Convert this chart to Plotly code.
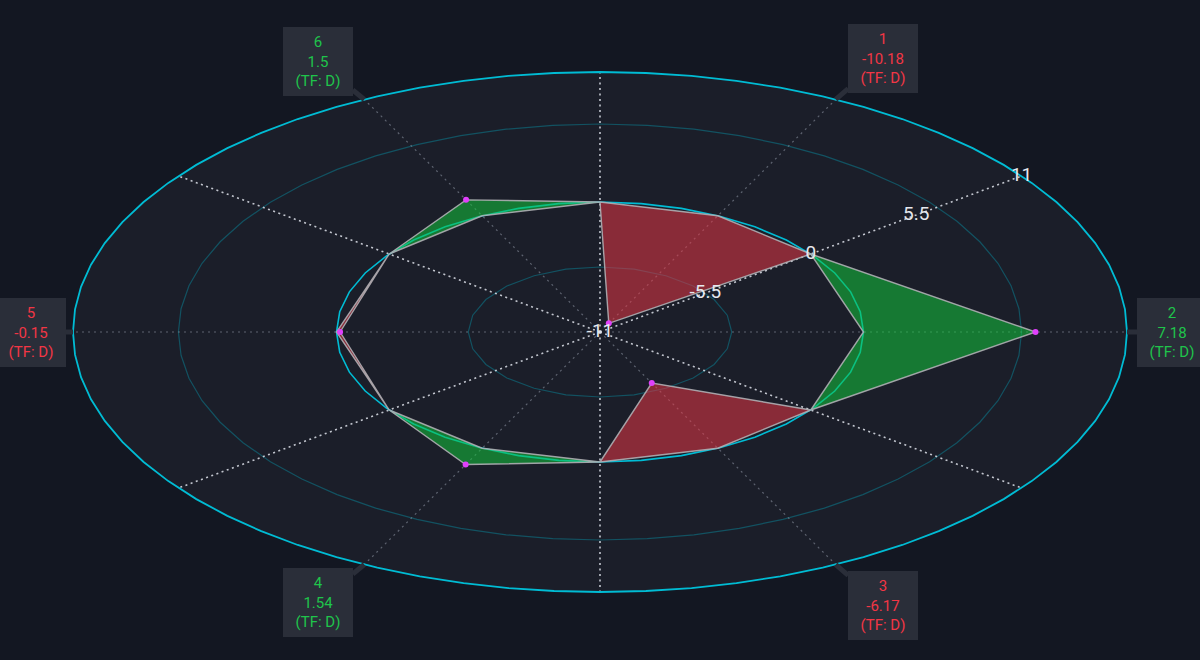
import numpy as np
import plotly.graph_objects as go

# Radar data (one value per axis, daily timeframe)
labels = ["1", "2", "3", "4", "5", "6"]
values = [-10.18, 7.18, -6.17, 1.54, -0.15, 1.5]
timeframe = "D"

# Radial scale
r_min, r_max = -11, 11
tick_values = [-11, -5.5, 0, 5.5, 11]
ring_values = [-5.5, 0, 6.6, 11]
ring_segments = [24, 40, 56, 72]

# Angles (degrees, ellipse parameter) of each axis and of the sector edges
axis_deg = [63.43, 0, -63.43, -116.57, 180, 116.57]
edge_deg = [90, 36.87, -36.87, -90, -143.13, 143.13]

# Colours
bg = "#131722"
plate = "#1b1e29"
cyan = "#00bcd4"
green_fill = "rgba(19,196,61,0.55)"
red_fill = "rgba(228,55,70,0.55)"
green_txt = "#1fc44b"
red_txt = "#f23645"
box_col = "#2a2e39"

# Pixel size of the ellipse inside the 1200x660 canvas
W, H = 1200, 660
cx, cy = 600, 332
rx, ry = 527, 260


def frac(v):
    return (v - r_min) / (r_max - r_min)


def pt(v, deg):
    t = np.radians(deg)
    f = frac(v)
    return f * np.cos(t), f * np.sin(t)


def ring(v, n):
    t = np.linspace(0, 2 * np.pi, n + 1)
    f = frac(v)
    return f * np.cos(t), f * np.sin(t)


def spokes(angles):
    xs, ys = [], []
    for a in angles:
        x0, y0 = pt(r_min, a)
        x1, y1 = pt(r_max, a)
        xs += [x0, x1, None]
        ys += [y0, y1, None]
    return xs, ys


fig = go.Figure()

# plate behind the chart
px_, py_ = ring(r_max, ring_segments[-1])
fig.add_trace(go.Scatter(x=px_, y=py_, mode="lines", fill="toself",
                         fillcolor=plate, line=dict(width=0), hoverinfo="skip"))

# dim grid rings
for v, n in zip(ring_values, ring_segments):
    if v in (0, r_max):
        continue
    gx, gy = ring(v, n)
    fig.add_trace(go.Scatter(x=gx, y=gy, mode="lines",
                             line=dict(color="rgba(0,188,212,0.33)", width=1.2),
                             hoverinfo="skip"))

# axis spokes (dim) and sector edges (bright)
sx, sy = spokes(axis_deg)
fig.add_trace(go.Scatter(x=sx, y=sy, mode="lines",
                         line=dict(color="rgba(150,156,172,0.55)", width=1.2, dash="2px,4px"),
                         hoverinfo="skip"))
ex, ey = spokes(edge_deg)
fig.add_trace(go.Scatter(x=ex, y=ey, mode="lines",
                         line=dict(color="rgba(225,228,236,0.85)", width=1.6, dash="2px,3.5px"),
                         hoverinfo="skip"))

# zero ring
zx, zy = ring(0, ring_segments[ring_values.index(0)])
fig.add_trace(go.Scatter(x=zx, y=zy, mode="lines",
                         line=dict(color=cyan, width=1.6), hoverinfo="skip"))

# sector fills between the value and the zero ring
n = len(values)
for i, v in enumerate(values):
    a_in, a_out = edge_deg[i], edge_deg[(i + 1) % n]
    corners = [pt(0, a_in), pt(v, axis_deg[i]), pt(0, a_out), pt(0, axis_deg[i]), pt(0, a_in)]
    fig.add_trace(go.Scatter(
        x=[c[0] for c in corners], y=[c[1] for c in corners],
        mode="lines", fill="toself",
        fillcolor=green_fill if v >= 0 else red_fill,
        line=dict(color="rgba(175,175,180,0.9)", width=1.4),
        hoverinfo="skip"))

# outer ring
ox, oy = ring(r_max, ring_segments[-1])
fig.add_trace(go.Scatter(x=ox, y=oy, mode="lines",
                         line=dict(color=cyan, width=1.8), hoverinfo="skip"))

# value points
vx = [pt(v, a)[0] for v, a in zip(values, axis_deg)]
vy = [pt(v, a)[1] for v, a in zip(values, axis_deg)]
fig.add_trace(go.Scatter(x=vx, y=vy, mode="markers",
                         marker=dict(color="#e040fb", size=6),
                         hovertemplate="%{text}<extra></extra>",
                         text=[f"{l}: {v}" for l, v in zip(labels, values)]))

# radial tick labels along the first sector edge
tx = [pt(t, edge_deg[1])[0] for t in tick_values]
ty = [pt(t, edge_deg[1])[1] for t in tick_values]
fig.add_trace(go.Scatter(x=tx, y=ty, mode="text",
                         text=[f"{t:g}" for t in tick_values],
                         textposition="middle center",
                         textfont=dict(color="#e6e8ee", size=19, family="Roboto"),
                         hoverinfo="skip"))

# callout boxes at the end of each axis
box_offsets = [(47, -41), (45, 0), (47, 41), (-46, 38), (-42, 0), (-46, -38)]
for l, v, a, (ax, ay) in zip(labels, values, axis_deg, box_offsets):
    x, y = pt(r_max, a)
    fig.add_annotation(
        x=x, y=y, xref="x", yref="y",
        ax=ax, ay=ay, axref="pixel", ayref="pixel",
        text=f"{l}<br>{v:g}<br>(TF: {timeframe})",
        showarrow=True, arrowhead=0, arrowwidth=5, arrowcolor=box_col, standoff=0,
        bgcolor=box_col, bordercolor=box_col, borderpad=0,
        width=68, height=67, align="center", valign="middle",
        font=dict(color=green_txt if v >= 0 else red_txt, size=15, family="Roboto"))

fig.update_layout(
    width=W, height=H,
    margin=dict(l=0, r=0, t=0, b=0),
    paper_bgcolor=bg, plot_bgcolor=bg,
    showlegend=False,
    xaxis=dict(range=[-cx / rx, (W - cx) / rx], visible=False, fixedrange=True),
    yaxis=dict(range=[-(H - cy) / ry, cy / ry], visible=False, fixedrange=True),
)

fig.write_html("out.html", config={"displayModeBar": False},
               post_script="document.body.style.margin='0';")
